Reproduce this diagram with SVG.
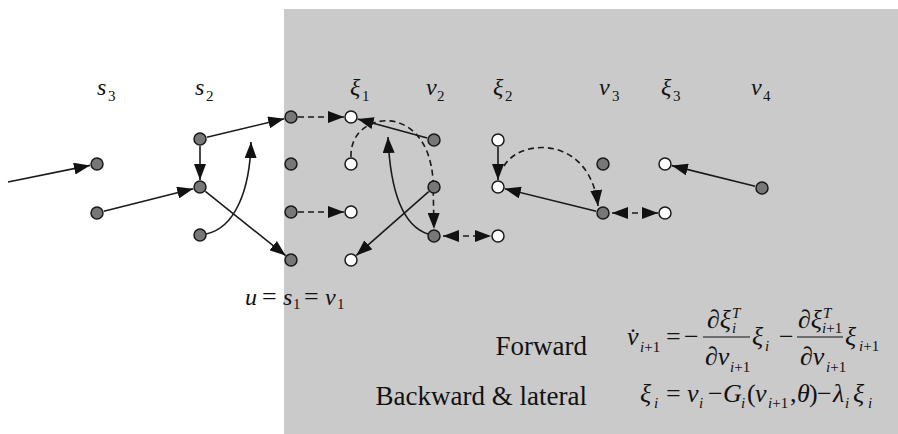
<svg xmlns="http://www.w3.org/2000/svg" width="898" height="434" viewBox="0 0 898 434">
<defs>
<marker id="ah" viewBox="0 0 16 12" refX="16" refY="6" markerWidth="16" markerHeight="12" markerUnits="userSpaceOnUse" orient="auto-start-reverse">
<path d="M0,0 L16,6 L0,12 z" fill="#111"/>
</marker>
<style>
.e{fill:none;stroke:#1a1a1a;stroke-width:1.6}
.d{stroke-dasharray:6,4}
.g{fill:#777;stroke:#1a1a1a;stroke-width:1.5}
.w{fill:#fbfbfb;stroke:#1a1a1a;stroke-width:1.5}
text{fill:#111}
.v{font-style:italic;font-size:24px}
.s{font-size:15px}
.si{font-size:15px;font-style:italic}
.m{font-size:26px}
.mi{font-size:26px;font-style:italic}
.t{font-size:27px}
</style>
</defs>
<rect x="0" y="0" width="898" height="434" fill="#fff"/>
<rect x="284" y="9" width="614" height="425" fill="#cacaca"/>

<g id="connectors">
<line class="e" x1="8" y1="182" x2="90" y2="165.4" marker-end="url(#ah)"/>
<line class="e" x1="103.8" y1="211.3" x2="193.2" y2="188.7" marker-end="url(#ah)"/>
<line class="e" x1="206.8" y1="137.3" x2="284.2" y2="118.7" marker-end="url(#ah)"/>
<line class="e" x1="200" y1="146" x2="200" y2="180" marker-end="url(#ah)"/>
<line class="e" x1="205.4" y1="191.4" x2="285.6" y2="255.6" marker-end="url(#ah)"/>
<path class="e" d="M206,234 C235,228 250,190 251,142" marker-end="url(#ah)"/>
<line class="e d" x1="298" y1="117" x2="344" y2="117" marker-end="url(#ah)"/>
<line class="e d" x1="298" y1="212" x2="344" y2="212" marker-end="url(#ah)"/>
<line class="e" x1="427.3" y1="138.1" x2="357.7" y2="118.9" marker-end="url(#ah)"/>
<path class="e d" d="M351,157 C349,110 428,100 433,180 L434,229" marker-end="url(#ah)"/>
<path class="e" d="M428,234 C400,225 390,185 388,137" marker-end="url(#ah)"/>
<line class="e" x1="428.7" y1="191.6" x2="356.3" y2="255.4" marker-end="url(#ah)"/>
<line class="e d" x1="443" y1="236" x2="491" y2="236" marker-start="url(#ah)" marker-end="url(#ah)"/>
<line class="e" x1="498" y1="147" x2="498" y2="180" marker-end="url(#ah)"/>
<path class="e d" d="M504,166 C520,138 590,135 598,206" marker-end="url(#ah)"/>
<line class="e" x1="596.2" y1="211.3" x2="504.8" y2="188.7" marker-end="url(#ah)"/>
<line class="e d" x1="612" y1="213" x2="658" y2="213" marker-start="url(#ah)" marker-end="url(#ah)"/>
<line class="e" x1="755.2" y1="186.3" x2="671.8" y2="165.6" marker-end="url(#ah)"/>
</g>

<g id="n-s3a"><circle class="g" cx="97" cy="164" r="6"/></g>
<g id="n-s3b"><circle class="g" cx="97" cy="213" r="6"/></g>
<g id="n-s2a"><circle class="g" cx="200" cy="139" r="6"/></g>
<g id="n-s2b"><circle class="g" cx="200" cy="187" r="6"/></g>
<g id="n-s2c"><circle class="g" cx="200" cy="235" r="6"/></g>
<g id="n-u1"><circle class="g" cx="291" cy="117" r="6"/></g>
<g id="n-u2"><circle class="g" cx="291" cy="164" r="6"/></g>
<g id="n-u3"><circle class="g" cx="291" cy="212" r="6"/></g>
<g id="n-u4"><circle class="g" cx="291" cy="260" r="6"/></g>
<g id="n-x1a"><circle class="w" cx="351" cy="117" r="6"/></g>
<g id="n-x1b"><circle class="w" cx="351" cy="164" r="6"/></g>
<g id="n-x1c"><circle class="w" cx="351" cy="212" r="6"/></g>
<g id="n-x1d"><circle class="w" cx="351" cy="260" r="6"/></g>
<g id="n-v2a"><circle class="g" cx="434" cy="140" r="6"/></g>
<g id="n-v2b"><circle class="g" cx="434" cy="187" r="6"/></g>
<g id="n-v2c"><circle class="g" cx="434" cy="236" r="6"/></g>
<g id="n-x2a"><circle class="w" cx="498" cy="140" r="6"/></g>
<g id="n-x2b"><circle class="w" cx="498" cy="187" r="6"/></g>
<g id="n-x2c"><circle class="w" cx="498" cy="236" r="6"/></g>
<g id="n-v3a"><circle class="g" cx="603" cy="164" r="6"/></g>
<g id="n-v3b"><circle class="g" cx="603" cy="213" r="6"/></g>
<g id="n-x3a"><circle class="w" cx="665" cy="164" r="6"/></g>
<g id="n-x3b"><circle class="w" cx="665" cy="213" r="6"/></g>
<g id="n-v4"><circle class="g" cx="762" cy="188" r="6"/></g>

<g id="labels" font-family="'Liberation Serif', 'Times New Roman', serif">
<text class="v" x="97" y="95">s</text><text class="s" x="108" y="101">3</text>
<text class="v" x="195" y="95">s</text><text class="s" x="206" y="101">2</text>
<text class="v" x="350" y="95">ξ</text><text class="s" x="362" y="101">1</text>
<text class="v" x="426" y="95">v</text><text class="s" x="437" y="101">2</text>
<text class="v" x="493" y="95">ξ</text><text class="s" x="505" y="101">2</text>
<text class="v" x="599" y="95">v</text><text class="s" x="612" y="101">3</text>
<text class="v" x="661" y="95">ξ</text><text class="s" x="673" y="101">3</text>
<text class="v" x="751" y="95">v</text><text class="s" x="763" y="101">4</text>

<text class="v" x="245" y="305">u</text>
<text class="m" x="262" y="305">=</text>
<text class="v" x="283" y="305">s</text><text class="s" x="293" y="309">1</text>
<text class="m" x="304" y="305">=</text>
<text class="v" x="325" y="305">v</text><text class="s" x="337" y="309">1</text>
</g>

<g id="equations" font-family="'Liberation Serif', 'Times New Roman', serif">
<text class="t" x="587" y="355" text-anchor="end">Forward</text>
<text class="t" x="587" y="405" text-anchor="end">Backward &amp; lateral</text>

<text class="mi" x="627" y="345">v̇</text>
<text class="si" x="640" y="352">i<tspan font-style="normal">+1</tspan></text>
<text class="m" x="666" y="345">=</text>
<text class="m" x="684" y="345">−</text>
<line x1="703" y1="337" x2="750" y2="337" stroke="#111" stroke-width="1.2"/>
<text class="mi" x="707" y="328">∂ξ</text>
<text class="si" x="732" y="333">i</text>
<text class="si" x="732" y="318" font-size="12">T</text>
<text class="mi" x="705" y="365">∂v</text>
<text class="si" x="730" y="372">i<tspan font-style="normal">+1</tspan></text>
<text class="mi" x="752" y="345">ξ</text>
<text class="si" x="765" y="351">i</text>
<text class="m" x="779" y="345">−</text>
<line x1="797" y1="337" x2="843" y2="337" stroke="#111" stroke-width="1.2"/>
<text class="mi" x="798" y="328">∂ξ</text>
<text class="si" x="822" y="333">i<tspan font-style="normal">+1</tspan></text>
<text class="si" x="823" y="318" font-size="12">T</text>
<text class="mi" x="800" y="365">∂v</text>
<text class="si" x="826" y="372">i<tspan font-style="normal">+1</tspan></text>
<text class="mi" x="845" y="345">ξ</text>
<text class="si" x="859" y="351">i<tspan font-style="normal">+1</tspan></text>

<text class="mi" x="640" y="402">ξ</text>
<text class="si" x="654" y="408">i</text>
<text class="m" x="666" y="402">=</text>
<text class="mi" x="687" y="402">v</text>
<text class="si" x="699" y="408">i</text>
<text class="m" x="708" y="402">−</text>
<text class="mi" x="723" y="402">G</text>
<text class="si" x="741" y="408">i</text>
<text class="m" x="747" y="402">(</text>
<text class="mi" x="755" y="402">v</text>
<text class="si" x="768" y="408">i<tspan font-style="normal">+1</tspan></text>
<text class="m" x="790" y="402">,</text>
<text class="mi" x="797" y="402">θ</text>
<text class="m" x="809" y="402">)</text>
<text class="m" x="817" y="402">−</text>
<text class="mi" x="833" y="402">λ</text>
<text class="si" x="845" y="408">i</text>
<text class="mi" x="853" y="402">ξ</text>
<text class="si" x="868" y="408">i</text>
</g>
</svg>
